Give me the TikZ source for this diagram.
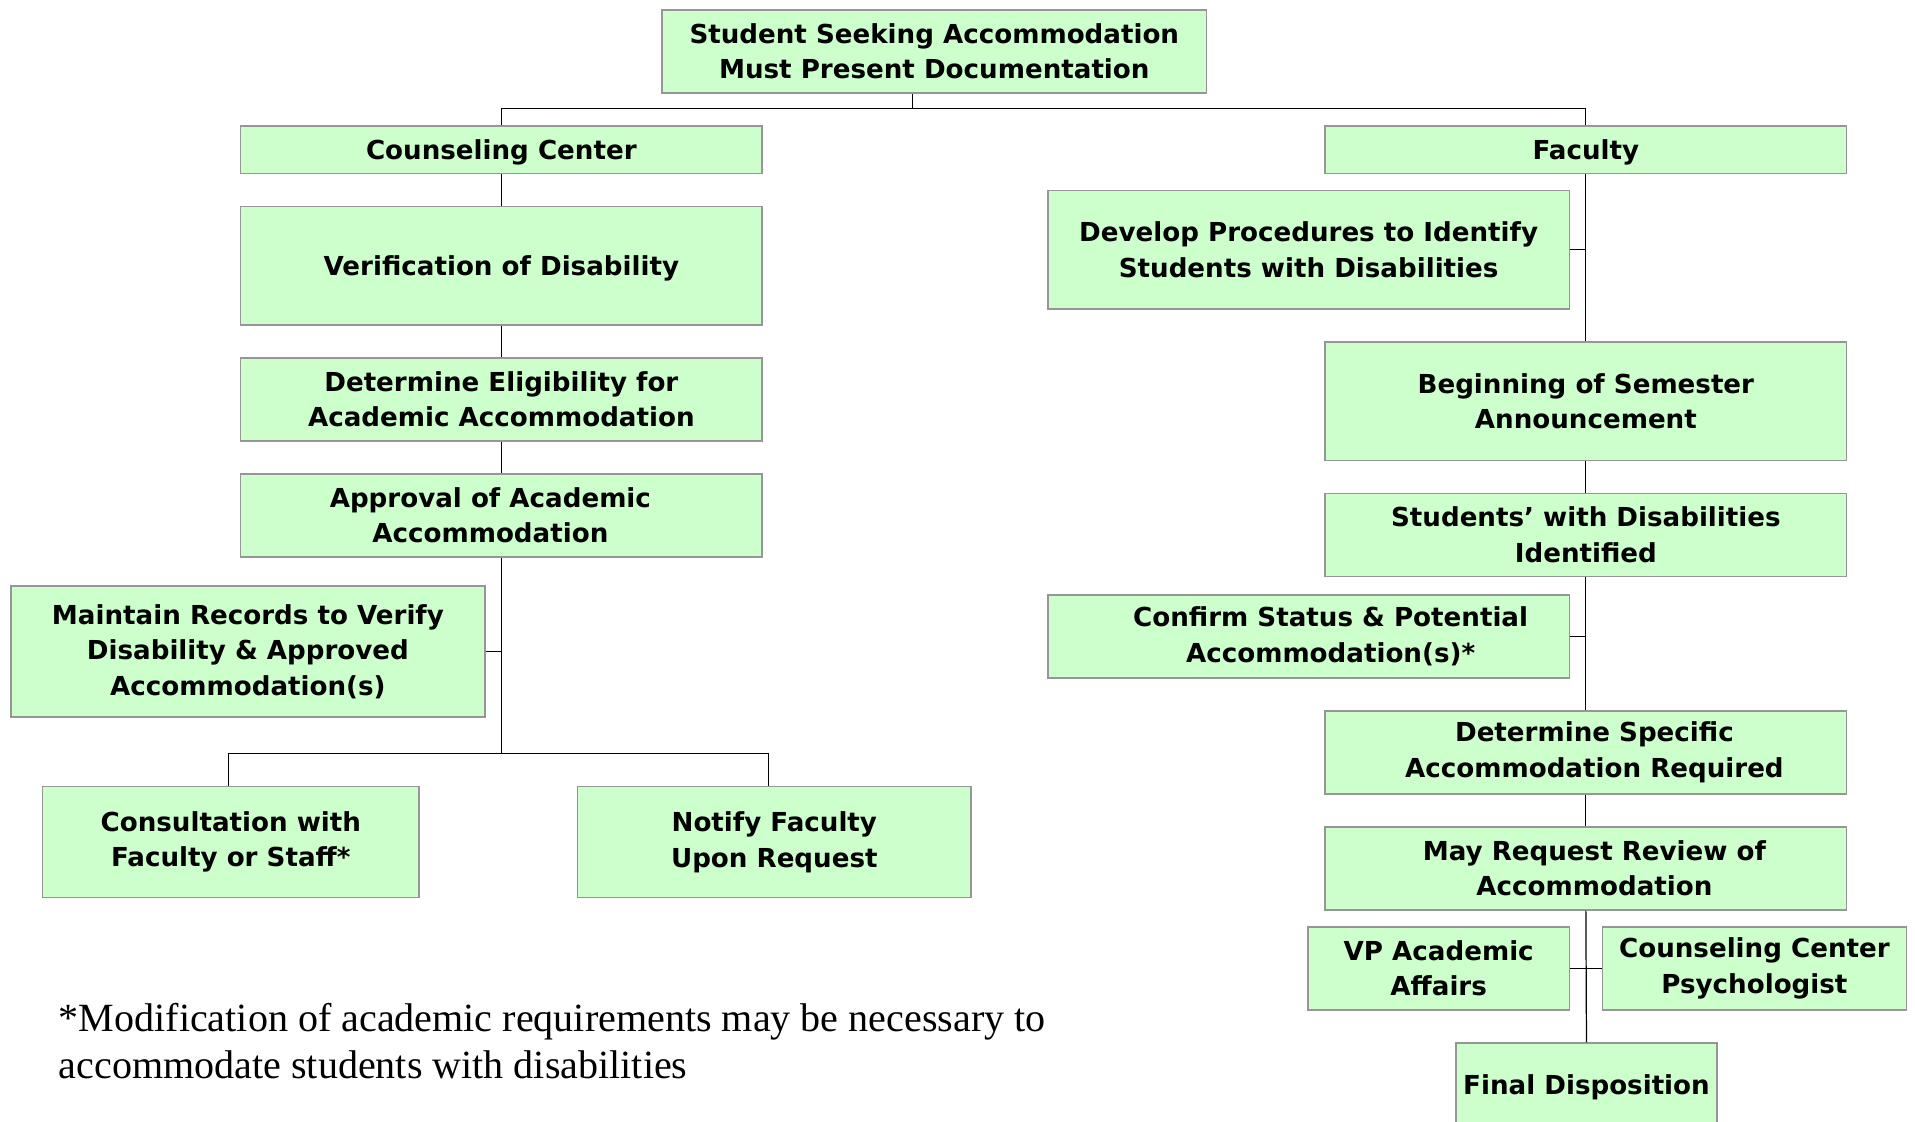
\documentclass[tikz,border=0pt]{standalone}
\usepackage{fontspec}
\setmainfont{DejaVu Sans}
\newfontfamily\notefont{Liberation Serif}
\usepackage{tikz}

\definecolor{boxfill}{RGB}{204,255,204}
\definecolor{boxline}{RGB}{150,150,150}
\tikzset{
  stepbox/.style={draw=boxline, fill=boxfill, line width=1.2pt, align=center, inner sep=0pt,
    font=\fontsize{21.4}{29}\selectfont\bfseries,
    execute at begin node={\rule{0pt}{21pt}}},
  link/.style={draw=black, line width=1pt},
}

\begin{document}
\begin{tikzpicture}[x=1pt,y=1pt,yscale=-1,xscale=1]
\path[use as bounding box] (0,0) rectangle (1568,918);

% Text Node
\node[stepbox, minimum width=446, minimum height=68] (top) at (765,42) {Student Seeking Accommodation\\Must Present Documentation};

%Shape: Rectangle -- counseling side
\node[stepbox, minimum width=427, minimum height=39] (cc) at (410.5,122.5) {Counseling Center};
\node[stepbox, minimum width=427, minimum height=97] (verif) at (410.5,217.5) {Verification of Disability};
\node[stepbox, minimum width=427, minimum height=68] (elig) at (410.5,327) {Determine Eligibility for\\Academic Accommodation};
\node[stepbox, minimum width=427, minimum height=68] (appr) at (410.5,422) {\hspace*{-18pt}Approval of Academic\\\hspace*{-18pt}Accommodation};
\node[stepbox, minimum width=388, minimum height=107] (maint) at (203,533.5) {Maintain Records to Verify\\Disability \& Approved\\Accommodation(s)};
\node[stepbox, minimum width=308, minimum height=91] (cons) at (189,689.5) {Consultation with\\Faculty or Staff*};
\node[stepbox, minimum width=322, minimum height=91] (notify) at (634,689.5) {Notify Faculty\\Upon Request};

%Shape: Rectangle -- faculty side
\node[stepbox, minimum width=427, minimum height=39] (fac) at (1298.5,122.5) {Faculty};
\node[stepbox, minimum width=427, minimum height=97] (dev) at (1071.5,204.5) {Develop Procedures to Identify\\Students with Disabilities};
\node[stepbox, minimum width=427, minimum height=97] (begin) at (1298.5,328.5) {Beginning of Semester\\Announcement};
\node[stepbox, minimum width=427, minimum height=68] (ident) at (1298.5,438) {Students’ with Disabilities\\Identified};
\node[stepbox, minimum width=427, minimum height=68] (confirm) at (1071.5,521) {\hspace*{36pt}Confirm Status \& Potential\\\hspace*{36pt}Accommodation(s)*};
\node[stepbox, minimum width=427, minimum height=68] (detspec) at (1298.5,616) {\hspace*{14pt}Determine Specific\\\hspace*{14pt}Accommodation Required};
\node[stepbox, minimum width=427, minimum height=68] (review) at (1298.5,711) {\hspace*{14pt}May Request Review of\\\hspace*{14pt}Accommodation};
\node[stepbox, minimum width=214, minimum height=68] (vp) at (1178,793) {VP Academic\\Affairs};
\node[stepbox, minimum width=249, minimum height=68] (psych) at (1436.5,793) {Counseling Center\\Psychologist};
\node[stepbox, minimum width=214, minimum height=68] (final) at (1299,888) {Final Disposition};

%Straight Lines
\coordinate (jtop) at (747,89);
\coordinate (jleft) at (410.5,617);
\draw[link] (jtop) -- (jtop |- top.south);
\draw[link] (cc.north) |- (jtop) -| (fac.north);
\draw[link] (cc.south) -- (verif.north);
\draw[link] (verif.south) -- (elig.north);
\draw[link] (elig.south) -- (appr.north);
\draw[link] (appr.south) -- (jleft);
\draw[link] (maint.east) -- (maint.east -| appr.south);
\draw[link] ([xshift=-2pt]cons.north) |- (jleft) -| ([xshift=-5pt]notify.north);
\draw[link] (fac.south) -- (begin.north);
\draw[link] (dev.east) -- (dev.east -| fac.south);
\draw[link] (begin.south) -- (ident.north);
\draw[link] (ident.south) -- (detspec.north);
\draw[link] (confirm.east) -- (confirm.east -| ident.south);
\draw[link] (detspec.south) -- (review.north);
\draw[link] (review.south) -- (final.north);
\draw[link] (vp.east) -- (vp.east -| review.south);
\draw[link] (psych.west) -- (psych.west -| review.south);

% Text Node
\node[anchor=north west, inner sep=0pt, align=left, font=\notefont\fontsize{32.8}{39}\selectfont] (note) at (48,821) {*Modification of academic requirements may be necessary to\\accommodate students with disabilities};
\end{tikzpicture}
\end{document}
